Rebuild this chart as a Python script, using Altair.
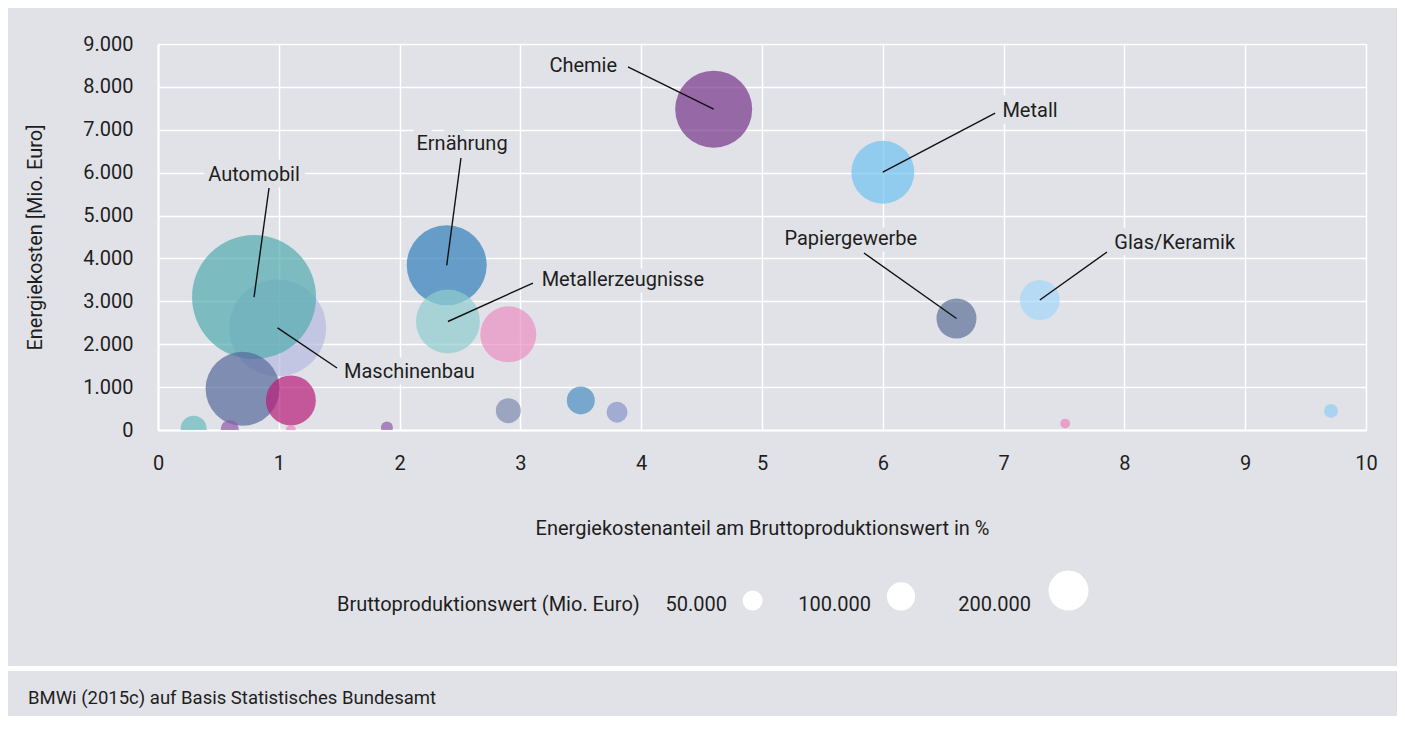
import altair as alt
import pandas as pd

BG = "#e1e2e7"
INK = "#1e1e1e"
FONT = "Roboto"

# ---------------- bubble data ----------------
share = [0.99, 0.795, 0.70, 1.10, 4.60, 6.00, 2.39, 2.40, 2.90, 6.61, 7.30,
         3.50, 0.295, 2.90, 3.80, 0.594, 9.71, 1.895, 1.10, 7.51]
cost = [2380, 3100, 960, 690, 7480, 6010, 3840, 2530, 2230, 2600, 3030,
        690, 30, 450, 415, 25, 445, 60, 0, 150]
bpw = [1176000, 1922000, 684500, 312500, 741000, 496000, 800000, 512000, 392000,
       200000, 200000, 98000, 84500, 78000, 55000, 40500, 24500, 18000, 12500, 12000]
colors = ["#b5bbe1", "#51adaf", "#57699b", "#b81d78", "#77358a", "#6fc3f1",
          "#307fbb", "#90cdcf", "#eb8fc2", "#5c7098", "#a4d7f8", "#4c8fc3",
          "#68babf", "#7d8caf", "#8896ca", "#905aa8", "#92cef4", "#905aa8",
          "#eb84bb", "#eb84bb"]

# ---------------- annotations ----------------
labels = ["Chemie", "Metall", "Ernährung", "Automobil", "Metallerzeugnisse",
          "Maschinenbau", "Papiergewerbe", "Glas/Keramik"]
label_bubble = [4, 5, 6, 1, 7, 0, 9, 10]
anchor_x = [3.89, 6.93, 2.508, 0.919, 3.104, 1.482, 5.844, 7.856]
anchor_y = [8464, 7391, 6342, 5642, 3427, 1446, 4127, 4150]
text_x = [3.80, 6.99, 2.517, 0.795, 3.176, 1.54, 5.735, 7.917]
text_y = [8480, 7438, 6668, 5957, 3509, 1352, 4458, 4356]
text_align = ["right", "left", "center", "center", "left", "left", "center", "left"]

x_ticks = list(range(0, 11))
y_ticks = list(range(0, 9001, 1000))
legend_values = [50000, 100000, 200000]

x_title = "Energiekostenanteil am Bruttoproduktionswert in %"
y_title = "Energiekosten [Mio. Euro]"
size_title = "Bruttoproduktionswert (Mio. Euro)"
source = "BMWi (2015c) auf Basis Statistisches Bundesamt"

SIZE_K = 16000 / 2000000  # px^2 (symbol size) per Mio. Euro
SIZE_SCALE = alt.Scale(type="linear", domain=[0, 2000000], range=[0, 16000], zero=True)

bub = pd.DataFrame({"share": share, "cost": cost, "bpw": bpw, "col": colors,
                    "ord": list(range(len(share)))})
ann = pd.DataFrame({
    "label": labels,
    "lx": anchor_x, "ly": anchor_y,
    "bx": [share[i] for i in label_bubble],
    "by": [cost[i] for i in label_bubble],
    "tx": text_x, "ty": text_y, "align": text_align,
})

common_axis = dict(grid=True, ticks=False, domainColor="white", domainWidth=2,
                   gridColor="white", gridWidth=1.5, labelFont=FONT, titleFont=FONT,
                   labelFontSize=20, titleFontSize=20, labelColor=INK, titleColor=INK,
                   titleFontWeight="normal", labelFlush=False)
X_AX = alt.Axis(values=x_ticks, title=x_title, labelPadding=23, titlePadding=45,
                **common_axis)
Y_AX = alt.Axis(values=y_ticks, title=y_title, labelPadding=25, titlePadding=37,
                labelExpr="replace(format(datum.value, ','), ',', '.')", **common_axis)
XS = alt.Scale(domain=[0, 10], nice=False)
YS = alt.Scale(domain=[0, 9000], nice=False)


def X(f):
    return alt.X(f, type="quantitative", scale=XS, axis=X_AX, title=x_title)


def Y(f):
    return alt.Y(f, type="quantitative", scale=YS, axis=Y_AX, title=y_title)


bubbles = alt.Chart(bub).mark_circle(opacity=0.7, clip=True).encode(
    x=X("share"), y=Y("cost"),
    size=alt.Size("bpw:Q", scale=SIZE_SCALE, legend=None),
    color=alt.Color("col:N", scale=None), order=alt.Order("ord:Q"),
)

base_ann = alt.Chart(ann)
halos, texts = [], []
for al in ["left", "center", "right"]:
    sub = base_ann.transform_filter(alt.datum.align == al)
    halos.append(sub.mark_text(align=al, baseline="middle", font=FONT, fontSize=20,
                               color=BG, stroke=BG, strokeWidth=13,
                               strokeJoin="round").encode(x=X("tx"), y=Y("ty"), text="label:N"))
    texts.append(sub.mark_text(align=al, baseline="middle", font=FONT, fontSize=20,
                               color=INK).encode(x=X("tx"), y=Y("ty"), text="label:N"))

leaders = base_ann.mark_rule(color="#111111", strokeWidth=1.4).encode(
    x=X("lx"), y=Y("ly"), x2="bx:Q", y2="by:Q")

# ---------------- size legend (label left of its white circle) ----------------
LEG_Y = 561          # text centre line, px below plot top
LEG_BOTTOM = 566.6   # circles share a common bottom
leg_layers = [
    alt.Chart(pd.DataFrame({"t": [size_title]})).mark_text(
        align="left", baseline="middle", font=FONT, fontSize=20, color=INK).encode(
        text="t:N", x=alt.value(179), y=alt.value(LEG_Y))
]
label_right = [569, 713, 873]
circle_cx = [594.6, 743, 910.5]
for v, lr, cx in zip(legend_values, label_right, circle_cx):
    d = (SIZE_K * v) ** 0.5
    one = alt.Chart(pd.DataFrame({"v": [v], "t": [f"{v:,}".replace(",", ".")]}))
    leg_layers.append(one.mark_text(align="right", baseline="middle", font=FONT,
                                    fontSize=20, color=INK).encode(
        text="t:N", x=alt.value(lr), y=alt.value(LEG_Y)))
    leg_layers.append(one.mark_circle(color="white", opacity=1).encode(
        size=alt.Size("v:Q", scale=SIZE_SCALE, legend=None),
        x=alt.value(cx), y=alt.value(LEG_BOTTOM - d / 2)))

sep = alt.Chart(pd.DataFrame({"a": [0]})).mark_rule(color="white", strokeWidth=5).encode(
    x=alt.value(-150), x2=alt.value(1239), y=alt.value(624.5), y2=alt.value(624.5))

foot = alt.Chart(pd.DataFrame({"t": [source]})).mark_text(
    align="left", baseline="middle", font=FONT, fontSize=18.5, color=INK).encode(
    text="t:N", x=alt.value(-130), y=alt.value(654))

chart = alt.layer(bubbles, *halos, leaders, *texts, *leg_layers, sep, foot).properties(
    width=1208, height=386,
    padding={"left": 150, "top": 36, "right": 31, "bottom": 286},
    autosize=alt.AutoSizeParams(type="none"),
    background=BG,
).configure_view(strokeWidth=0)

chart.save("out.html", embed_options={"renderer": "svg", "actions": False})
